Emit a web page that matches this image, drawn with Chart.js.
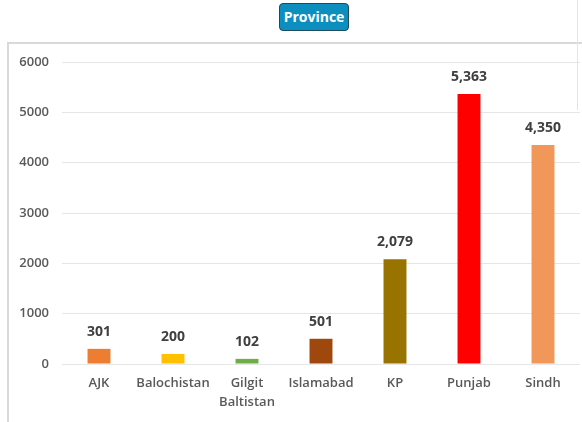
<!DOCTYPE html>
<html>
<head>
<meta charset="utf-8">
<script src="https://cdn.jsdelivr.net/npm/chart.js@4/dist/chart.umd.min.js"></script>
<style>
  html, body { margin: 0; padding: 0; background: #fff; overflow: hidden; }
  #wrap { position: relative; width: 582px; height: 422px; }
  #box { position: absolute; left: 7px; top: 42px; width: 600px; height: 400px;
         border-left: 2px solid #d9d9d9; border-top: 2px solid #d9d9d9; box-sizing: border-box; }
  #edge { position: absolute; left: 577px; top: 0; width: 1px; height: 110px; background: #e4e4e4; }
  #title { position: absolute; left: 279px; top: 3px; width: 70px; height: 28px; box-sizing: border-box;
           background: #0c8fbf; border: 1px solid #1d4a5c; border-radius: 4px;
           color: #fff; font: bold 14px "Open Sans", sans-serif; text-align: center; line-height: 26px; }
  canvas { position: absolute; left: 0; top: 0; }
</style>
</head>
<body>
<div id="wrap">
  <div id="box"></div>
  <div id="edge"></div>
  <div id="title">Province</div>
  <canvas id="myChart" width="582" height="422"></canvas>
</div>
<script>
var categories = ['AJK', 'Balochistan', ['Gilgit', 'Baltistan'], 'Islamabad', 'KP', 'Punjab', 'Sindh'];
var values = [301, 200, 102, 501, 2079, 5363, 4350];
var barColors = ['#ED7D31', '#FFC000', '#70AD47', '#9E480E', '#997300', '#FF0000', '#F1975A'];
var yTicks = [0, 1000, 2000, 3000, 4000, 5000, 6000];

// value labels above each bar
var valueLabels = {
    id: 'valueLabels',
    afterDatasetsDraw: function(chart) {
        var ctx = chart.ctx;
        var meta = chart.getDatasetMeta(0);
        ctx.save();
        ctx.font = 'bold 14px "Open Sans", sans-serif';
        ctx.fillStyle = '#404040';
        ctx.textAlign = 'center';
        ctx.textBaseline = 'middle';
        meta.data.forEach(function(bar, i) {
            ctx.fillText(values[i].toLocaleString('en-US'), bar.x, bar.y - 17);
        });
        ctx.restore();
    }
};

var ctx = document.getElementById('myChart').getContext('2d');
var chart = new Chart(ctx, {
    type: 'bar',
    data: {
        labels: categories,
        datasets: [{
            data: values,
            backgroundColor: barColors,
            borderWidth: 0,
            barPercentage: 0.31,
            categoryPercentage: 1
        }]
    },
    options: {
        responsive: false,
        animation: false,
        layout: { padding: { top: 62, right: 2, left: 0, bottom: 0 } },
        plugins: {
            legend: { display: false },
            tooltip: { enabled: false }
        },
        scales: {
            x: {
                grid: { display: false, drawTicks: false },
                border: { display: false },
                ticks: {
                    autoSkip: false,
                    padding: 10,
                    color: '#595959',
                    font: { family: '"Open Sans", sans-serif', size: 13, weight: '600', lineHeight: 1.45 },
                    maxRotation: 0
                },
                afterFit: function(scale) { scale.height = 58; }
            },
            y: {
                min: 0,
                max: 6000,
                afterBuildTicks: function(scale) {
                    scale.ticks = yTicks.map(function(v) { return { value: v }; });
                },
                grid: { color: '#e6e6e6', lineWidth: 1, drawTicks: false },
                border: { display: false },
                ticks: {
                    padding: 13,
                    color: '#595959',
                    font: { family: '"Open Sans", sans-serif', size: 13, weight: '600' },
                    callback: function(v) { return String(v); }
                },
                afterFit: function(scale) { scale.width = 62; }
            }
        }
    },
    plugins: [valueLabels]
});
</script>
</body>
</html>
